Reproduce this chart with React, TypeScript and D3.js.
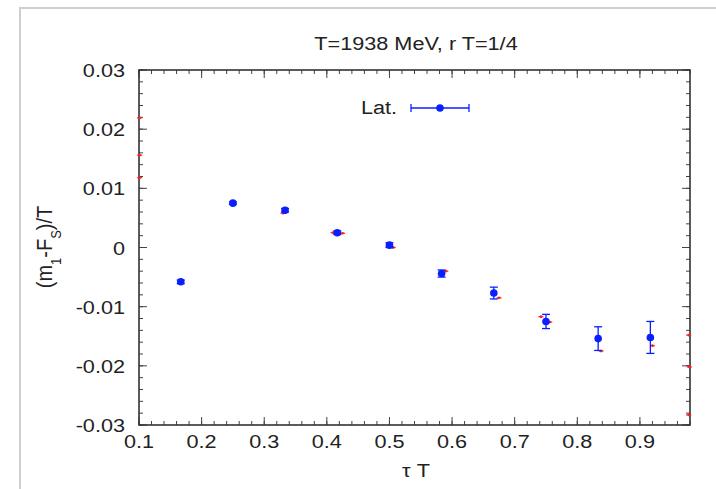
import React from "react";
import * as d3 from "d3";

const W = 716;
const H = 489;

// Lattice data (blue)
const tauT = [0.1667, 0.25, 0.3333, 0.4167, 0.5, 0.5833, 0.6667, 0.75, 0.8333, 0.9167];
const latVal = [-0.0058, 0.0075, 0.0063, 0.0025, 0.0004, -0.0044, -0.0077, -0.0125, -0.0154, -0.0152];
const latErr = [0.0003, 0.0002, 0.0003, 0.0003, 0.0004, 0.0006, 0.001, 0.0012, 0.002, 0.0027];

// Small red points
const redX = [0.101, 0.101, 0.101, 0.33, 0.41, 0.425, 0.506, 0.59, 0.675, 0.742, 0.756, 0.838, 0.92, 0.978, 0.979, 0.978];
const redY = [0.0219, 0.0156, 0.0118, 0.0058, 0.0025, 0.0024, 0.0, -0.004, -0.0085, -0.0117, -0.0126, -0.0175, -0.0166, -0.0148, -0.0202, -0.0283];

const xTicks = [0.1, 0.2, 0.3, 0.4, 0.5, 0.6, 0.7, 0.8, 0.9];
const yTicks = [-0.03, -0.02, -0.01, 0, 0.01, 0.02, 0.03];
const yTickLabels = ["-0.03", "-0.02", "-0.01", "0", "0.01", "0.02", "0.03"];

const titleText = "T=1938 MeV, r T=1/4";
const legendLabel = "Lat.";

const FONT = "'Liberation Sans', Arial, Helvetica, sans-serif";
const SX = 1.14;

function Txt(props: { x: number; y: number; anchor?: string; size?: number; children: any; rotate?: number }) {
  const { x, y, anchor = "middle", size = 19, children, rotate } = props;
  const tr = `translate(${x},${y}) scale(${SX},1)` + (rotate ? ` rotate(${rotate})` : "");
  return (
    <text transform={tr} textAnchor={anchor} fontFamily={FONT} fontSize={size} fill="#222">
      {children}
    </text>
  );
}

export default function App() {
  const L = 139, R = 690, T = 70, B = 425;
  const x = d3.scaleLinear().domain([0.1, 0.98]).range([L, R]);
  const y = d3.scaleLinear().domain([-0.03, 0.03]).range([B, T]);

  const xMinor = d3.range(0, 45).map((i) => 0.1 + i * 0.02).filter((v) => v <= 0.98 + 1e-9);
  const yMinor = d3.range(0, 31).map((i) => -0.03 + i * 0.002);

  const majLen = 8, minLen = 4;
  const tickColor = "#444";
  const blue = "#0a1fff";
  const red = "#ff2020";

  return (
    <svg width={W} height={H} style={{ position: "absolute", left: 0, top: 0 }}>
      <rect x={0} y={0} width={W} height={H} fill="#fff" />
      <rect x={20} y={8} width={W + 20} height={H + 20} fill="none" stroke="#cfcfcf" strokeWidth={2} />

      {/* minor ticks */}
      {xMinor.map((v, i) => (
        <g key={"xm" + i} stroke={tickColor} strokeWidth={1}>
          <line x1={x(v)} x2={x(v)} y1={B} y2={B - minLen} />
          <line x1={x(v)} x2={x(v)} y1={T} y2={T + minLen} />
        </g>
      ))}
      {yMinor.map((v, i) => (
        <g key={"ym" + i} stroke={tickColor} strokeWidth={1}>
          <line x1={L} x2={L + minLen} y1={y(v)} y2={y(v)} />
          <line x1={R} x2={R - minLen} y1={y(v)} y2={y(v)} />
        </g>
      ))}
      {/* major ticks */}
      {xTicks.map((v, i) => (
        <g key={"xM" + i} stroke={tickColor} strokeWidth={1}>
          <line x1={x(v)} x2={x(v)} y1={B} y2={B - majLen} />
          <line x1={x(v)} x2={x(v)} y1={T} y2={T + majLen} />
        </g>
      ))}
      {yTicks.map((v, i) => (
        <g key={"yM" + i} stroke={tickColor} strokeWidth={1}>
          <line x1={L} x2={L + majLen} y1={y(v)} y2={y(v)} />
          <line x1={R} x2={R - majLen} y1={y(v)} y2={y(v)} />
        </g>
      ))}

      {/* frame */}
      <rect x={L} y={T} width={R - L} height={B - T} fill="none" stroke="#333" strokeWidth={1.6} />

      {/* tick labels */}
      {xTicks.map((v, i) => (
        <Txt key={"xl" + i} x={x(v)} y={B + 23}>
          {d3.format(".1f")(v)}
        </Txt>
      ))}
      {yTicks.map((v, i) => (
        <Txt key={"yl" + i} x={L - 14} y={y(v) + 7} anchor="end">
          {yTickLabels[i]}
        </Txt>
      ))}

      {/* title & axis labels */}
      <Txt x={416} y={50}>{titleText}</Txt>
      <Txt x={416} y={477}>τ T</Txt>
      <Txt x={52} y={247} rotate={-90} size={20}>
        (m<tspan baselineShift="sub" fontSize={13}>1</tspan>-F<tspan baselineShift="sub" fontSize={13}>S</tspan>)/T
      </Txt>

      {/* red points */}
      {redX.map((v, i) => (
        <g key={"r" + i}>
          <line x1={x(v) - 2.5} x2={x(v) + 2.5} y1={y(redY[i])} y2={y(redY[i])} stroke={red} strokeWidth={1.2} />
          <circle cx={x(v)} cy={y(redY[i])} r={1.4} fill={red} />
        </g>
      ))}

      {/* lattice points */}
      {tauT.map((v, i) => {
        const cx = x(v);
        const y1 = y(latVal[i] + latErr[i]);
        const y0 = y(latVal[i] - latErr[i]);
        return (
          <g key={"b" + i} stroke={blue} strokeWidth={1.3}>
            <line x1={cx} x2={cx} y1={y1} y2={y0} />
            <line x1={cx - 4} x2={cx + 4} y1={y1} y2={y1} />
            <line x1={cx - 4} x2={cx + 4} y1={y0} y2={y0} />
            <circle cx={cx} cy={y(latVal[i])} r={3.8} fill={blue} stroke="none" />
          </g>
        );
      })}

      {/* legend */}
      <Txt x={397} y={114} anchor="end">{legendLabel}</Txt>
      <g stroke={blue} strokeWidth={1.3}>
        <line x1={411} x2={469} y1={108} y2={108} />
        <line x1={411} x2={411} y1={104} y2={112} />
        <line x1={469} x2={469} y1={104} y2={112} />
        <circle cx={440} cy={108} r={3.8} fill={blue} stroke="none" />
      </g>
    </svg>
  );
}
